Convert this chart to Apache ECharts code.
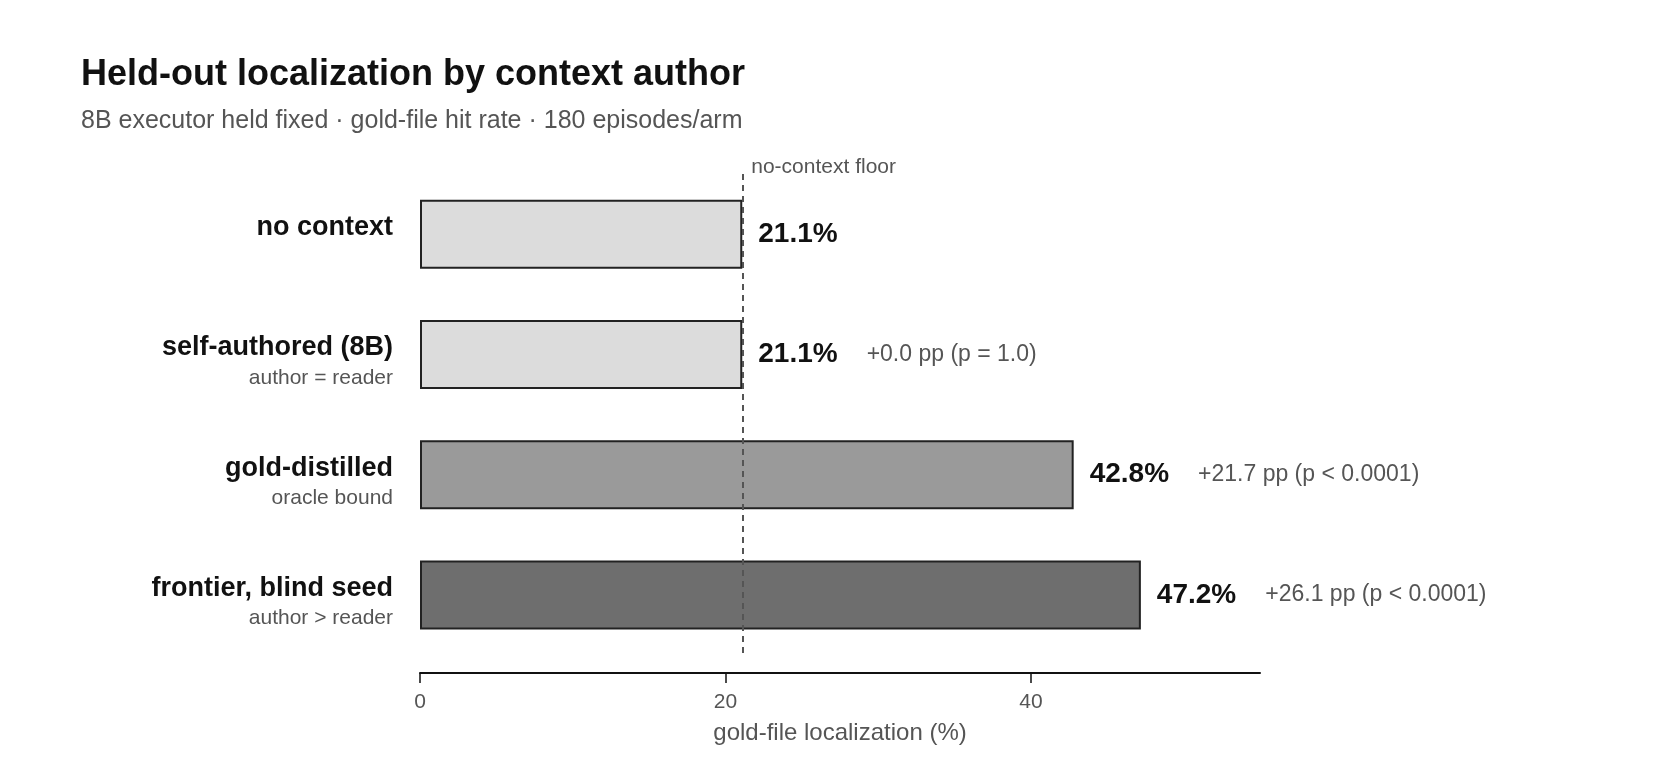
<!DOCTYPE html>
<html>
<head>
<meta charset="utf-8">
<title>Held-out localization by context author</title>
<script src="https://cdn.jsdelivr.net/npm/echarts@6/dist/echarts.min.js"></script>
<style>
  html, body { margin: 0; padding: 0; background: #fff; }
  #chart { width: 1680px; height: 760px; }
</style>
</head>
<body>
<div id="chart"></div>
<script>
// data
var categories = ['no context', 'self-authored (8B)', 'gold-distilled', 'frontier, blind seed'];
var subLabels  = ['', 'author = reader', 'oracle bound', 'author > reader'];
var values     = [21.1, 21.1, 42.8, 47.2];
var deltas     = ['', '+0.0 pp (p = 1.0)', '+21.7 pp (p < 0.0001)', '+26.1 pp (p < 0.0001)'];
var floorValue = 21.1;
var xTicks     = [0, 20, 40];

var FONT = "'Liberation Sans', Arial, Helvetica, sans-serif";
var fills = ['#dcdcdc', '#dcdcdc', '#9a9a9a', '#6e6e6e'];

var chart = echarts.init(document.getElementById('chart'));

var barData = values.map(function (v, i) {
  return { value: v, itemStyle: { color: fills[i] } };
});

var option = {
  backgroundColor: '#fff',
  animation: false,
  title: [
    {
      text: 'Held-out localization by context author',
      left: 76, top: 52,
      textStyle: { fontFamily: FONT, fontSize: 36, fontWeight: 'bold', color: '#111' }
    },
    {
      text: '8B executor held fixed · gold-file hit rate · 180 episodes/arm',
      left: 76, top: 104,
      textStyle: { fontFamily: FONT, fontSize: 25, fontWeight: 'normal', color: '#555' }
    }
  ],
  grid: { left: 420, right: 420, top: 174, bottom: 105 },
  xAxis: {
    type: 'value',
    min: 0, max: 55, interval: 20,
    offset: 18,
    axisLine: { show: true, lineStyle: { color: '#111', width: 2 } },
    axisTick: { show: true, length: 10, customValues: xTicks, lineStyle: { color: '#111', width: 1.5 } },
    axisLabel: { customValues: xTicks, margin: 19, fontFamily: FONT, fontSize: 21, color: '#555' },
    splitLine: { show: false },
    name: 'gold-file localization (%)',
    nameLocation: 'middle',
    nameGap: 48,
    nameTextStyle: { fontFamily: FONT, fontSize: 24, color: '#555' }
  },
  yAxis: {
    type: 'category',
    inverse: true,
    data: categories,
    axisLine: { show: false },
    axisTick: { show: false },
    axisLabel: {
      margin: 27,
      align: 'right',
      padding: [13, 0, 0, 0],
      formatter: function (val, idx) {
        return '{b|' + val + '}\n{s|' + (subLabels[idx] || ' ') + '}';
      },
      rich: {
        b: { fontFamily: FONT, fontSize: 27, fontWeight: 'bold', color: '#111', lineHeight: 34, align: 'right' },
        s: { fontFamily: FONT, fontSize: 21, color: '#555', lineHeight: 26, align: 'right' }
      }
    }
  },
  series: [
    {
      type: 'bar',
      data: barData,
      barWidth: 69,
      itemStyle: { borderColor: '#222', borderWidth: 2 },
      label: {
        show: true,
        position: 'right',
        distance: 16,
        formatter: function (p) {
          var s = '{v|' + values[p.dataIndex].toFixed(1) + '%}';
          if (deltas[p.dataIndex]) s += '{d|' + deltas[p.dataIndex] + '}';
          return s;
        },
        rich: {
          v: { fontFamily: FONT, fontSize: 28, fontWeight: 'bold', color: '#111' },
          d: { fontFamily: FONT, fontSize: 23, color: '#555', padding: [0, 0, 0, 29] }
        }
      },
      markLine: {
        silent: true,
        symbol: 'none',
        lineStyle: { color: '#555', type: [6, 5], width: 2 },
        label: {
          show: true,
          position: 'start',
          align: 'left',
          padding: [0, 0, 0, 9],
          distance: -4,
          formatter: 'no-context floor',
          fontFamily: FONT, fontSize: 21, color: '#555'
        },
        data: [{ xAxis: floorValue }]
      }
    }
  ]
};

chart.setOption(option);
</script>
</body>
</html>
